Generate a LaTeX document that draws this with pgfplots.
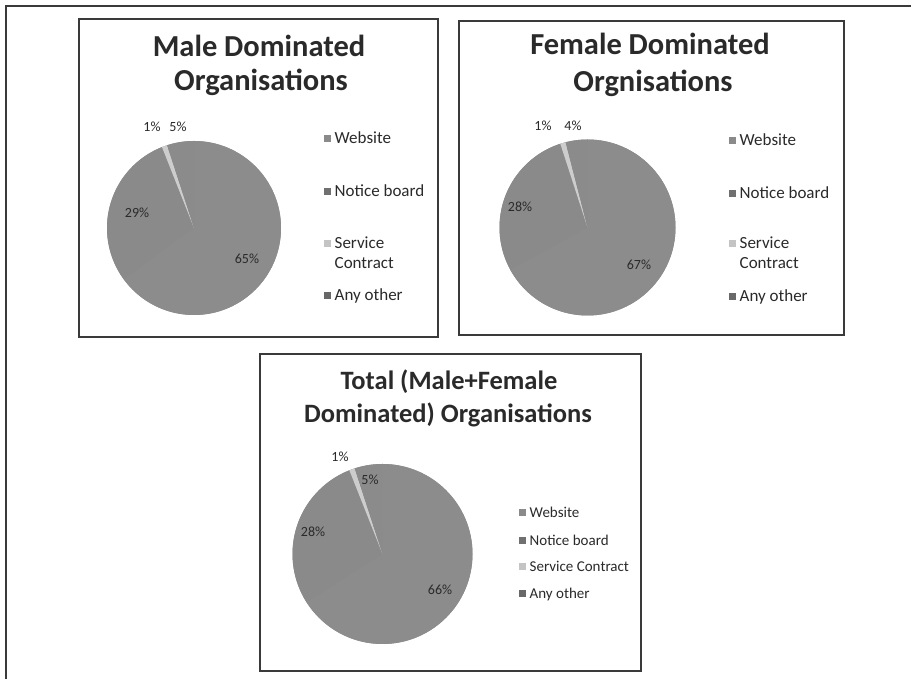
\documentclass[border=0pt]{standalone}
\usepackage{pgfplots}
\pgfplotsset{compat=1.18}
\usepackage{pgfplotstable}
\usepackage{fontspec}
\setmainfont{Carlito}

% slice colours
\definecolor{pcWeb}{HTML}{8B8B8B}
\definecolor{pcNotice}{HTML}{8C8C8C}
\definecolor{pcService}{HTML}{CDCDCD}
\definecolor{pcOther}{HTML}{8A8A8A}
% legend key colours
\definecolor{lgWeb}{HTML}{8A8A8A}
\definecolor{lgNotice}{HTML}{707070}
\definecolor{lgService}{HTML}{C4C4C4}
\definecolor{lgOther}{HTML}{686868}
\definecolor{frameC}{HTML}{3A3A3A}
\definecolor{txt}{HTML}{2A2A2A}

% shares in percent, rows in legend order
\pgfplotstableread{
source pct
Website 5
Notice 65
Service 1
Other 29
}\maletab
\pgfplotstableread{
source pct
Website 4
Notice 67
Service 1
Other 28
}\femaletab
\pgfplotstableread{
source pct
Website 5
Notice 66
Service 1
Other 28
}\totaltab

% one slice, clockwise from 12 o'clock: #1 table, #2 row, #3 colour, #4 radius in pt
\gdef\cum{0}
\newcommand\pieslice[4]{%
  \pgfplotstablegetelem{#2}{pct}\of#1%
  \pgfmathsetmacro\slA{90-3.6*\cum}%
  \pgfmathsetmacro\slB{90-3.6*(\cum+\pgfplotsretval)}%
  \pgfmathsetmacro\slC{\cum+\pgfplotsretval}%
  \xdef\cum{\slC}%
  \edef\slcmd{\noexpand\fill[#3] (axis cs:0,0) -- (axis cs:{cos(\slA)},{sin(\slA)}) arc[start angle=\slA, end angle=\slB, radius=#4pt] -- cycle;}%
  \slcmd
}
% percentage label of a row: #1 table, #2 row, #3/#4 position
\newcommand\pielabel[4]{%
  \pgfplotstablegetelem{#2}{pct}\of#1%
  \edef\lbcmd{\noexpand\node[plabel] at (axis cs:#3,#4) {\pgfplotsretval\noexpand\%};}%
  \lbcmd
}
% legend row: #1 key x, #2 baseline y, #3 colour, #4 text, #5 font size
\newcommand\legrow[5]{%
  \fill[#3] (#1-3.5,#2+2.2) rectangle (#1+3.5,#2+9.2);
  \node[anchor=base west, inner sep=0pt, text=txt, font=\fontsize{#5}{#5}\selectfont] at (#1+7.5,#2) {#4};
}

\tikzset{plabel/.style={inner sep=0pt, text=txt, font=\fontsize{14}{16}\selectfont},
  ttl/.style={anchor=base, inner sep=0pt, text=txt, font=\bfseries\fontsize{30.5}{35}\selectfont},
  box/.style={draw=frameC, line width=1.2pt}}

\pgfplotsset{piebox/.style={anchor=center, hide axis, scale only axis, clip=false,
  xmin=-1, xmax=1, ymin=-1, ymax=1}}

\begin{document}
\begin{tikzpicture}[x=1pt,y=1pt]
\useasboundingbox (0,0) rectangle (911,679);
\fill[white] (0,0) rectangle (911,679);
\draw[draw=frameC, line width=1.3pt] (6,0) -- (6,673) -- (911,673);

% ---------- male dominated ----------
\draw[box] (79,342) rectangle (438,660);
\node[ttl] at (259,622) {Male Dominated};
\node[ttl] at (261,588) {Organisations};
\begin{axis}[piebox, at={(194pt,451pt)}, width=174pt, height=174pt]
  \fill[pcNotice] (axis cs:0,0) circle[radius=87pt];
  \gdef\cum{0}
  \pieslice{\maletab}{1}{pcNotice}{87}
  \pieslice{\maletab}{3}{pcOther}{87}
  \pieslice{\maletab}{2}{pcService}{87}
  \pieslice{\maletab}{0}{pcWeb}{87}
  \pielabel{\maletab}{2}{-0.483}{1.161}
  \pielabel{\maletab}{0}{-0.184}{1.161}
  \pielabel{\maletab}{3}{-0.655}{0.172}
  \pielabel{\maletab}{1}{0.609}{-0.356}
\end{axis}
\legrow{327}{535}{lgWeb}{Website}{17}
\legrow{327}{482}{lgNotice}{Notice board}{17}
\legrow{327}{430}{lgService}{Service}{17}
\node[anchor=base west, inner sep=0pt, text=txt, font=\fontsize{17}{17}\selectfont] at (334.5,410) {Contract};
\legrow{327}{378}{lgOther}{Any other}{17}

% ---------- female dominated ----------
\draw[box] (459,344) rectangle (844,658);
\node[ttl] at (650,624) {Female Dominated};
\node[ttl] at (653,587) {Orgnisations};
\begin{axis}[piebox, at={(587.5pt,451.5pt)}, width=176pt, height=176pt]
  \fill[pcNotice] (axis cs:0,0) circle[radius=88pt];
  \gdef\cum{0}
  \pieslice{\femaletab}{1}{pcNotice}{88}
  \pieslice{\femaletab}{3}{pcOther}{88}
  \pieslice{\femaletab}{2}{pcService}{88}
  \pieslice{\femaletab}{0}{pcWeb}{88}
  \pielabel{\femaletab}{2}{-0.506}{1.153}
  \pielabel{\femaletab}{0}{-0.165}{1.153}
  \pielabel{\femaletab}{3}{-0.767}{0.233}
  \pielabel{\femaletab}{1}{0.585}{-0.426}
\end{axis}
\legrow{732}{533}{lgWeb}{Website}{17}
\legrow{732}{480}{lgNotice}{Notice board}{17}
\legrow{732}{430}{lgService}{Service}{17}
\node[anchor=base west, inner sep=0pt, text=txt, font=\fontsize{17}{17}\selectfont] at (739.5,410) {Contract};
\legrow{732}{377}{lgOther}{Any other}{17}

% ---------- total ----------
\draw[box] (260,8) rectangle (641,325);
\node[ttl, font=\bfseries\fontsize{26.5}{32}\selectfont] at (449,289) {Total (Male+Female};
\node[ttl, font=\bfseries\fontsize{26.5}{32}\selectfont] at (448,256) {Dominated) Organisations};
\begin{axis}[piebox, at={(382.5pt,125pt)}, width=180pt, height=180pt]
  \fill[pcNotice] (axis cs:0,0) circle[radius=90pt];
  \gdef\cum{0}
  \pieslice{\totaltab}{1}{pcNotice}{90}
  \pieslice{\totaltab}{3}{pcOther}{90}
  \pieslice{\totaltab}{2}{pcService}{90}
  \pieslice{\totaltab}{0}{pcWeb}{90}
  \pielabel{\totaltab}{2}{-0.472}{1.078}
  \pielabel{\totaltab}{0}{-0.139}{0.822}
  \pielabel{\totaltab}{3}{-0.772}{0.244}
  \pielabel{\totaltab}{1}{0.639}{-0.4}
\end{axis}
\legrow{522}{161}{lgWeb}{Website}{15}
\legrow{522}{133}{lgNotice}{Notice board}{15}
\legrow{522}{107}{lgService}{Service Contract}{15}
\legrow{522}{80}{lgOther}{Any other}{15}
\end{tikzpicture}
\end{document}
